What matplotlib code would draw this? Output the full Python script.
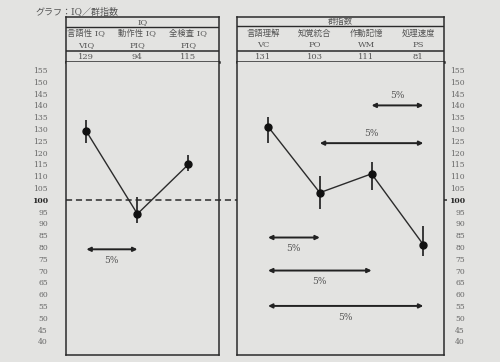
import matplotlib
matplotlib.use("Agg")
import matplotlib.pyplot as plt
from matplotlib.transforms import blended_transform_factory

BG = "#e3e3e1"
INK = "#2b2b2b"
TXT = "#555555"
FAM = ["DejaVu Serif", "Noto Sans CJK JP"]

# IQ panel
iq_names = ["言語性 IQ", "動作性 IQ", "全検査 IQ"]
iq_abbr = ["VIQ", "PIQ", "FIQ"]
iq_vals = [129, 94, 115]
iq_lo = [124, 90, 112]
iq_hi = [134, 101, 119]

# index panel
ix_names = ["言語理解", "知覚統合", "作動記憶", "処理速度"]
ix_abbr = ["VC", "PO", "WM", "PS"]
ix_vals = [131, 103, 111, 81]
ix_lo = [124, 96, 104, 76]
ix_hi = [135, 110, 116, 89]

# 5% significance arrows: (from, to, level, label side)
iq_arrows = [(0, 1, 79, "below")]
ix_arrows = [(2, 3, 140, "above"), (1, 3, 124, "above"), (0, 1, 84, "below"),
             (0, 2, 70, "below"), (0, 3, 55, "below")]

yticks = list(range(40, 160, 5))

W, H = 500, 362
fig = plt.figure(figsize=(W / 100, H / 100), dpi=100, facecolor=BG)

def rect(x0, y0, x1, y1):
    return [x0 / W, 1 - y1 / H, (x1 - x0) / W, (y1 - y0) / H]

fig.text(35 / W, 1 - 12 / H, "グラフ：IQ／群指数", family=FAM, fontsize=6.5,
         color=TXT, va="center")

def table(x0, x1, title, names, abbr, vals, head_line, xlim):
    t = fig.add_axes(rect(x0, 17, x1, 62))
    t.set_facecolor(BG)
    t.set_xlim(*xlim); t.set_ylim(45, 0)
    t.set_xticks([]); t.set_yticks([])
    for s in t.spines.values():
        s.set_color(INK); s.set_linewidth(1.1)
    t.spines["bottom"].set_linewidth(1.8)
    t.axhline(head_line, color=INK, lw=1.0)
    t.axhline(34, color=INK, lw=1.1)
    mid = (xlim[0] + xlim[1]) / 2
    t.text(mid, head_line / 2, title, ha="center", va="center", family=FAM, fontsize=6, color=TXT)
    for i, (n, a, v) in enumerate(zip(names, abbr, vals)):
        t.text(i, 17, n, ha="center", va="center", family=FAM, fontsize=6, color=TXT)
        t.text(i, 28, a, ha="center", va="center", family=FAM, fontsize=6, color=TXT)
        t.text(i, 40, str(v), ha="center", va="center", family=FAM, fontsize=6, color=TXT)

def chart(x0, x1, vals, lo, hi, arrows, xlim, side):
    ax = fig.add_axes(rect(x0, 62, x1, 355))
    ax.set_facecolor(BG)
    ax.set_xlim(*xlim); ax.set_ylim(34.2, 158.4)
    ax.set_xticks([])
    for s in ax.spines.values():
        s.set_color(INK); s.set_linewidth(1.1)
    ax.spines["top"].set_visible(False)
    x = list(range(len(vals)))
    ax.vlines(x, lo, hi, color=INK, lw=1.3)
    ax.plot(x, vals, color=INK, lw=1.0, marker="o", ms=5, mfc="#111111", mec="#111111")
    for a, b, y, where in arrows:
        ax.annotate("", xy=(b, y), xytext=(a, y),
                    arrowprops=dict(arrowstyle="<|-|>", color="#222222", lw=1.4,
                                    mutation_scale=6, shrinkA=0, shrinkB=0))
        ly = y + 4 if where == "above" else y - 4.8
        ax.text((a + b) / 2, ly, "5%", ha="center", va="center", family=FAM,
                fontsize=6.5, color=TXT)
    ax.set_yticks(yticks)
    if side == "left":
        ax.tick_params(axis="y", length=0, pad=13, labelsize=5.5, labelcolor="#666666")
    else:
        ax.yaxis.tick_right()
        ax.tick_params(axis="y", length=0, pad=15, labelsize=5.5, labelcolor="#666666")
        for lab in ax.get_yticklabels():
            lab.set_horizontalalignment("right")
    for lab in ax.get_yticklabels():
        lab.set_family(FAM)
        if lab.get_text() == "100":
            lab.set_fontweight("bold"); lab.set_color("#222222")
    return ax

table(66, 219, "IQ", iq_names, iq_abbr, iq_vals, 10, (-0.4, 2.6))
table(237, 444, "群指数", ix_names, ix_abbr, ix_vals, 9, (-0.5, 3.5))
axl = chart(66, 219, iq_vals, iq_lo, iq_hi, iq_arrows, (-0.4, 2.6), "left")
axr = chart(237, 444, ix_vals, ix_lo, ix_hi, ix_arrows, (-0.6, 3.4), "right")

# mean line across both panels
tr = blended_transform_factory(fig.transFigure, axl.transData)
axl.plot([66 / W, 447 / W], [100, 100], transform=tr, clip_on=False,
         color=INK, lw=1.1, ls=(0, (4, 2.5)))

fig.savefig("out.png", dpi=100, facecolor=BG)
